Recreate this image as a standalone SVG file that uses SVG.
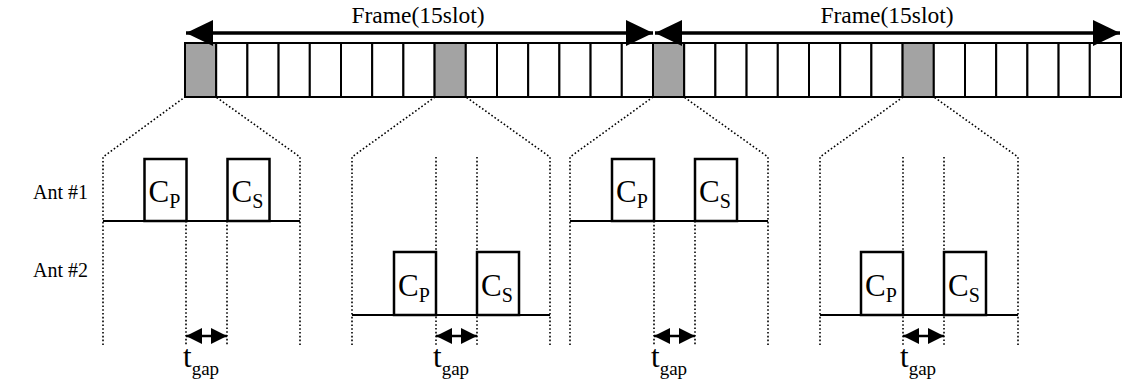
<svg xmlns="http://www.w3.org/2000/svg" width="1123" height="383" viewBox="0 0 1123 383">
<style>
.slot{fill:#fff;stroke:#000;stroke-width:2}
.gray{fill:#a3a3a3}
.dot{stroke:#000;stroke-width:1.6;stroke-dasharray:1.6 2.2;fill:none}
.base{stroke:#000;stroke-width:2;fill:none}
.box{fill:#fff;stroke:#000;stroke-width:2.5}
.big{stroke:#000;stroke-width:3.5;fill:none}
.small{stroke:#000;stroke-width:2.5;fill:none}
.lbl{font-size:20px}
.frm{font-size:23.5px}
.c{font-size:31px}
.sub{font-size:20px}
.t{font-size:31px}
.g{font-size:19px}
</style>
<defs>
<marker id="bigEnd" markerUnits="userSpaceOnUse" markerWidth="28" markerHeight="26" refX="27" refY="13" orient="auto"><path d="M0,0 L27,13 L0,26 Z" fill="#000"/></marker>
<marker id="bigStart" markerUnits="userSpaceOnUse" markerWidth="28" markerHeight="26" refX="0" refY="13" orient="auto"><path d="M27,0 L0,13 L27,26 Z" fill="#000"/></marker>
<marker id="smEnd" markerUnits="userSpaceOnUse" markerWidth="17" markerHeight="16" refX="16" refY="8" orient="auto"><path d="M0,0 L16,8 L0,16 Z" fill="#000"/></marker>
<marker id="smStart" markerUnits="userSpaceOnUse" markerWidth="17" markerHeight="16" refX="0" refY="8" orient="auto"><path d="M16,0 L0,8 L16,16 Z" fill="#000"/></marker>
</defs>

<g id="frame-labels" font-family="'Liberation Serif', 'DejaVu Serif', serif" fill="#000">
<text class="frm" x="418" y="23" text-anchor="middle">Frame(15slot)</text>
<text class="frm" x="887" y="23" text-anchor="middle">Frame(15slot)</text>
</g>

<g id="slots">
<rect class="slot gray" x="185" y="43" width="31.2" height="54"/>
<rect class="slot" x="216.2" y="43" width="31.2" height="54"/>
<rect class="slot" x="247.4" y="43" width="31.2" height="54"/>
<rect class="slot" x="278.6" y="43" width="31.2" height="54"/>
<rect class="slot" x="309.8" y="43" width="31.2" height="54"/>
<rect class="slot" x="341" y="43" width="31.2" height="54"/>
<rect class="slot" x="372.2" y="43" width="31.2" height="54"/>
<rect class="slot" x="403.4" y="43" width="31.2" height="54"/>
<rect class="slot gray" x="434.6" y="43" width="31.2" height="54"/>
<rect class="slot" x="465.8" y="43" width="31.2" height="54"/>
<rect class="slot" x="497" y="43" width="31.2" height="54"/>
<rect class="slot" x="528.2" y="43" width="31.2" height="54"/>
<rect class="slot" x="559.4" y="43" width="31.2" height="54"/>
<rect class="slot" x="590.6" y="43" width="31.2" height="54"/>
<rect class="slot" x="621.8" y="43" width="31.2" height="54"/>
<rect class="slot gray" x="653" y="43" width="31.2" height="54"/>
<rect class="slot" x="684.2" y="43" width="31.2" height="54"/>
<rect class="slot" x="715.4" y="43" width="31.2" height="54"/>
<rect class="slot" x="746.6" y="43" width="31.2" height="54"/>
<rect class="slot" x="777.8" y="43" width="31.2" height="54"/>
<rect class="slot" x="809" y="43" width="31.2" height="54"/>
<rect class="slot" x="840.2" y="43" width="31.2" height="54"/>
<rect class="slot" x="871.4" y="43" width="31.2" height="54"/>
<rect class="slot gray" x="902.6" y="43" width="31.2" height="54"/>
<rect class="slot" x="933.8" y="43" width="31.2" height="54"/>
<rect class="slot" x="965" y="43" width="31.2" height="54"/>
<rect class="slot" x="996.2" y="43" width="31.2" height="54"/>
<rect class="slot" x="1027.4" y="43" width="31.2" height="54"/>
<rect class="slot" x="1058.6" y="43" width="31.2" height="54"/>
<rect class="slot" x="1089.8" y="43" width="31.2" height="54"/>
</g>

<g id="connectors">
<line class="big" x1="186" y1="33" x2="653" y2="33" marker-start="url(#bigStart)" marker-end="url(#bigEnd)"/>
<line class="big" x1="655" y1="33" x2="1120" y2="33" marker-start="url(#bigStart)" marker-end="url(#bigEnd)"/>
<polyline class="dot" points="103,345 103,157 185,97"/>
<polyline class="dot" points="300,345 300,157 216,97"/>
<polyline class="dot" points="352,345 352,157 435,97"/>
<polyline class="dot" points="550,345 550,157 466,97"/>
<polyline class="dot" points="570,345 570,157 653,97"/>
<polyline class="dot" points="768,345 768,157 684,97"/>
<polyline class="dot" points="820,345 820,157 903,97"/>
<polyline class="dot" points="1018,345 1018,157 934,97"/>
<line class="dot" x1="186" y1="221" x2="186" y2="345"/>
<line class="dot" x1="227" y1="221" x2="227" y2="345"/>
<line class="dot" x1="436" y1="157" x2="436" y2="345"/>
<line class="dot" x1="477" y1="157" x2="477" y2="345"/>
<line class="dot" x1="654" y1="221" x2="654" y2="345"/>
<line class="dot" x1="695" y1="221" x2="695" y2="345"/>
<line class="dot" x1="903" y1="157" x2="903" y2="345"/>
<line class="dot" x1="944" y1="157" x2="944" y2="345"/>
<line class="base" x1="103" y1="221" x2="300" y2="221"/>
<line class="base" x1="352" y1="315" x2="550" y2="315"/>
<line class="base" x1="570" y1="221" x2="768" y2="221"/>
<line class="base" x1="820" y1="315" x2="1018" y2="315"/>
<line class="small" x1="186" y1="336" x2="227" y2="336" marker-start="url(#smStart)" marker-end="url(#smEnd)"/>
<line class="small" x1="436" y1="336" x2="477" y2="336" marker-start="url(#smStart)" marker-end="url(#smEnd)"/>
<line class="small" x1="654" y1="336" x2="695" y2="336" marker-start="url(#smStart)" marker-end="url(#smEnd)"/>
<line class="small" x1="903" y1="336" x2="944" y2="336" marker-start="url(#smStart)" marker-end="url(#smEnd)"/>
</g>

<g id="ant-labels" font-family="'Liberation Serif', 'DejaVu Serif', serif" fill="#000">
<text class="lbl" x="33" y="199">Ant #1</text>
<text class="lbl" x="33" y="277">Ant #2</text>
</g>

<g font-family="'Liberation Serif', 'DejaVu Serif', serif" fill="#000">
<g id="p1-cp"><rect class="box" x="144.5" y="159" width="42" height="62"/><text x="148.5" y="202"><tspan class="c">C</tspan><tspan class="sub" dy="6">P</tspan></text></g>
<g id="p1-cs"><rect class="box" x="227.5" y="159" width="42" height="62"/><text x="231.5" y="202"><tspan class="c">C</tspan><tspan class="sub" dy="6">S</tspan></text></g>
<g id="p2-cp"><rect class="box" x="394" y="252" width="42" height="63"/><text x="398" y="296"><tspan class="c">C</tspan><tspan class="sub" dy="6">P</tspan></text></g>
<g id="p2-cs"><rect class="box" x="477" y="252" width="42" height="63"/><text x="481" y="296"><tspan class="c">C</tspan><tspan class="sub" dy="6">S</tspan></text></g>
<g id="p3-cp"><rect class="box" x="612" y="159" width="42" height="62"/><text x="616" y="202"><tspan class="c">C</tspan><tspan class="sub" dy="6">P</tspan></text></g>
<g id="p3-cs"><rect class="box" x="695" y="159" width="42" height="62"/><text x="699" y="202"><tspan class="c">C</tspan><tspan class="sub" dy="6">S</tspan></text></g>
<g id="p4-cp"><rect class="box" x="861" y="252" width="42" height="63"/><text x="865" y="296"><tspan class="c">C</tspan><tspan class="sub" dy="6">P</tspan></text></g>
<g id="p4-cs"><rect class="box" x="944" y="252" width="42" height="63"/><text x="948" y="296"><tspan class="c">C</tspan><tspan class="sub" dy="6">S</tspan></text></g>
</g>

<g id="tgap-labels" font-family="'Liberation Serif', 'DejaVu Serif', serif" fill="#000">
<text x="183" y="367"><tspan class="t">t</tspan><tspan class="g" dy="8">gap</tspan></text>
<text x="433" y="367"><tspan class="t">t</tspan><tspan class="g" dy="8">gap</tspan></text>
<text x="651" y="367"><tspan class="t">t</tspan><tspan class="g" dy="8">gap</tspan></text>
<text x="900" y="367"><tspan class="t">t</tspan><tspan class="g" dy="8">gap</tspan></text>
</g>
</svg>
